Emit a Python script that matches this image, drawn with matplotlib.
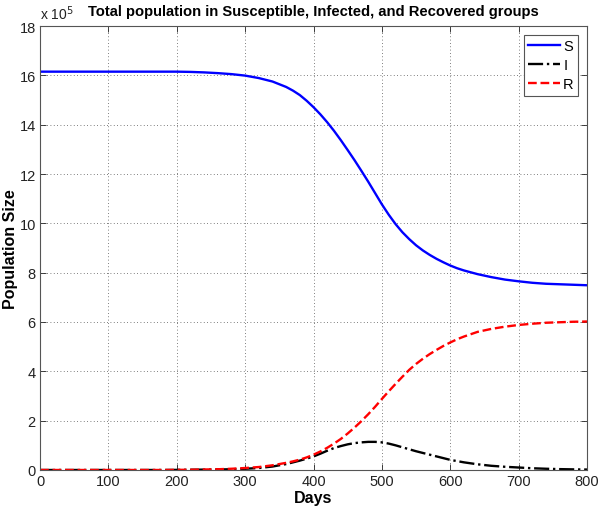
import matplotlib
matplotlib.use("Agg")
import matplotlib.pyplot as plt

plt.rcParams['font.family'] = ['Liberation Sans', 'DejaVu Sans']

days = [0, 20, 40, 60, 80, 100, 120, 140, 160, 180, 200, 220, 240, 260, 280, 300,
        320, 340, 360, 370, 380, 390, 400, 410, 420, 430, 440, 450, 460, 470, 480,
        490, 500, 510, 520, 530, 540, 550, 560, 570, 580, 590, 600, 610, 620,
        640, 660, 680, 700, 720, 740, 760, 780, 800]
# values in units of 1e5
S = [16.15, 16.15, 16.15, 16.15, 16.15, 16.15, 16.15, 16.15, 16.15, 16.15, 16.15,
     16.14, 16.12, 16.09, 16.05, 15.99,
     15.89, 15.75, 15.53, 15.38, 15.20, 14.97, 14.71, 14.42, 14.10, 13.75, 13.37,
     12.97, 12.56, 12.13, 11.69,
     11.23, 10.77, 10.35, 9.97, 9.64, 9.36, 9.11, 8.90, 8.72, 8.56, 8.42, 8.29,
     8.18, 8.09,
     7.94, 7.82, 7.72, 7.65, 7.59, 7.55, 7.53, 7.51, 7.49]
I = [0.0, 0.0, 0.0, 0.0, 0.0, 0.0, 0.0, 0.0, 0.0, 0.0, 0.005, 0.01, 0.015, 0.02,
     0.03, 0.05,
     0.08, 0.14, 0.24, 0.31, 0.38, 0.46, 0.55, 0.66, 0.78, 0.89, 0.97, 1.04,
     1.09, 1.12, 1.14,
     1.14, 1.12, 1.07, 1.00, 0.92, 0.84, 0.76, 0.69, 0.62, 0.55, 0.48, 0.41,
     0.36, 0.31,
     0.23, 0.17, 0.13, 0.10, 0.07, 0.05, 0.035, 0.025, 0.018]
R = [0.0, 0.0, 0.0, 0.0, 0.0, 0.0, 0.0, 0.0, 0.0, 0.0, 0.005, 0.01, 0.02, 0.03,
     0.05, 0.08,
     0.12, 0.19, 0.29, 0.35, 0.42, 0.51, 0.62, 0.75, 0.90, 1.07, 1.26, 1.48,
     1.72, 1.98, 2.26,
     2.56, 2.88, 3.19, 3.49, 3.78, 4.06, 4.30, 4.51, 4.70, 4.87, 5.03, 5.17,
     5.30, 5.41,
     5.60, 5.72, 5.81, 5.88, 5.93, 5.97, 5.99, 6.01, 6.02]
xticks = [0, 100, 200, 300, 400, 500, 600, 700, 800]
yticks = [0, 2, 4, 6, 8, 10, 12, 14, 16, 18]

fig = plt.figure(figsize=(6.01, 5.10), dpi=100)
ax = fig.add_axes([0.0666, 0.0765, 0.9101, 0.8705])

ax.plot(days, S, color=(0, 0, 1), lw=1.7, ls='-', label='S')
ax.plot(days, I, color='black', lw=1.7, ls='-.', label='I')
ax.plot(days, R, color=(1, 0, 0), lw=1.7, ls='--', label='R')

ax.set_xlim(0, 800)
ax.set_ylim(0, 18)
ax.set_xticks(xticks)
ax.set_yticks(yticks)
ax.tick_params(direction='in', top=True, right=True, labelsize=10.5,
               colors='#222222', length=4, width=0.6, pad=3)
for sp in ax.spines.values():
    sp.set_color('#555555')
    sp.set_linewidth(0.8)
ax.grid(True, ls=(0, (1, 3)), color='#555555', lw=0.6)

ax.set_xlabel('Days', fontsize=11.5, fontweight='bold', labelpad=1)
ax.set_ylabel('Population Size', fontsize=11.5, fontweight='bold')
ax.yaxis.set_label_coords(-0.040, 0.5)
ax.set_title('Total population in Susceptible, Infected, and Recovered groups',
             fontsize=10.6, fontweight='bold', pad=8)
ax.text(0.0, 1.008, r'x 10$^5$', transform=ax.transAxes, fontsize=10,
        color='#222222', ha='left', va='bottom')

leg = ax.legend(loc='upper right', fontsize=10.5, handlelength=2.2,
                handletextpad=0.2, borderpad=0.3, labelspacing=0.35,
                fancybox=False, framealpha=1, edgecolor='#555555',
                borderaxespad=0.6)
leg.get_frame().set_linewidth(0.8)

fig.savefig('out.png', dpi=100)
